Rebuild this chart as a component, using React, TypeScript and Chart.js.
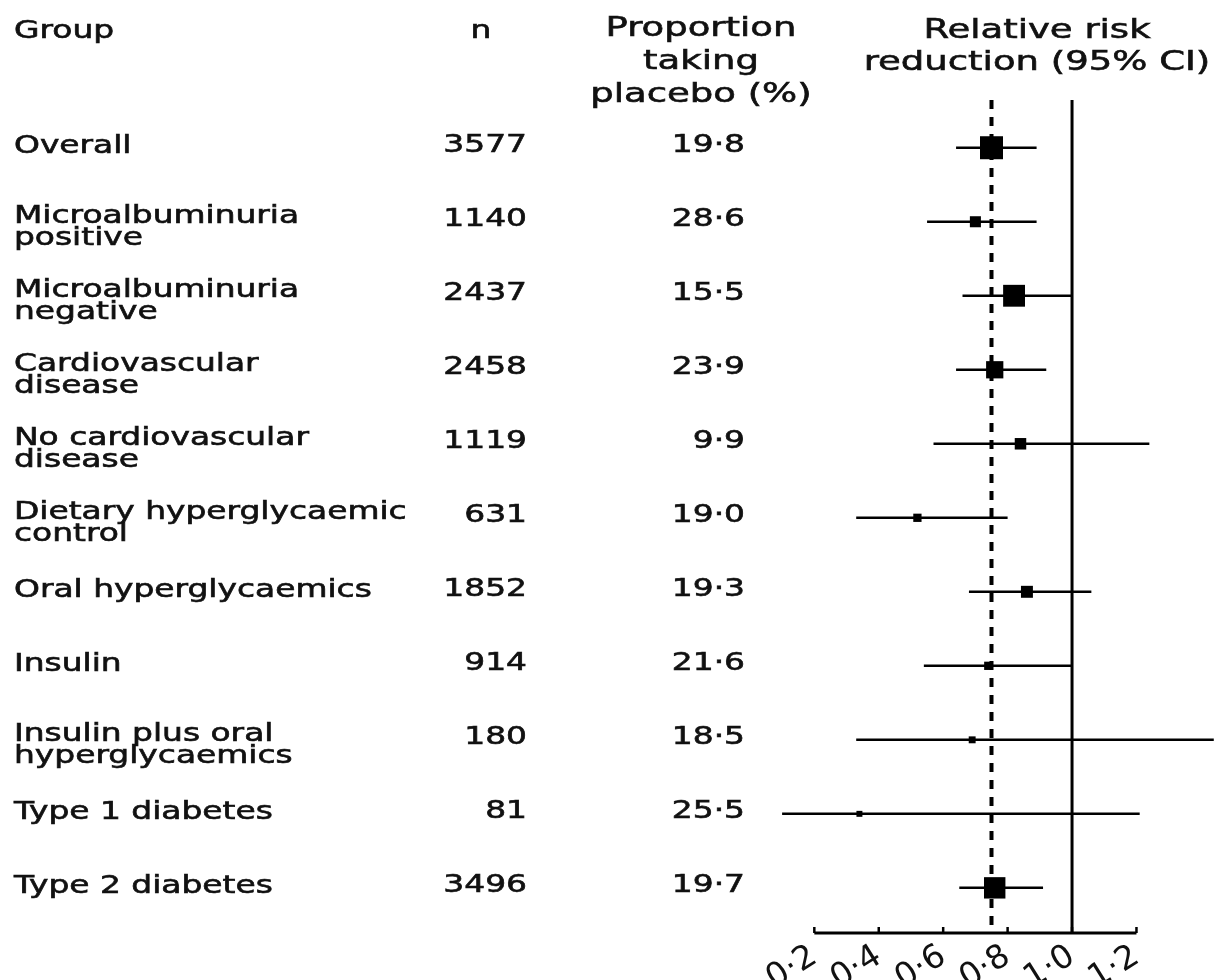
import React, { useEffect, useRef } from "react";
import { Chart, registerables } from "chart.js";

Chart.register(...registerables);

// ---- data ----
const groups: string[][] = [
  ["Overall"],
  ["Microalbuminuria", "positive"],
  ["Microalbuminuria", "negative"],
  ["Cardiovascular", "disease"],
  ["No cardiovascular", "disease"],
  ["Dietary hyperglycaemic", "control"],
  ["Oral hyperglycaemics"],
  ["Insulin"],
  ["Insulin plus oral", "hyperglycaemics"],
  ["Type 1 diabetes"],
  ["Type 2 diabetes"],
];
const nValues = [3577, 1140, 2437, 2458, 1119, 631, 1852, 914, 180, 81, 3496];
const placeboPct = [19.8, 28.6, 15.5, 23.9, 9.9, 19.0, 19.3, 21.6, 18.5, 25.5, 19.7];
const rrEstimate = [0.75, 0.70, 0.82, 0.76, 0.84, 0.52, 0.86, 0.74, 0.69, 0.34, 0.76];
const rrLower = [0.64, 0.55, 0.66, 0.64, 0.57, 0.33, 0.68, 0.54, 0.33, 0.10, 0.65];
const rrUpper = [0.89, 0.89, 1.0, 0.92, 1.24, 0.80, 1.06, 1.0, 1.44, 1.21, 0.91];
const relativeWeight = [1.0, 0.48, 0.95, 0.75, 0.5, 0.36, 0.52, 0.36, 0.3, 0.26, 0.93];
const xTicks = [0.2, 0.4, 0.6, 0.8, 1.0, 1.2];
const overallLine = 0.75;
const nullLine = 1.0;

const headerGroup = "Group";
const headerN = "n";
const headerProp = ["Proportion", "taking", "placebo (%)"];
const headerRR = ["Relative risk", "reduction (95% CI)"];

// ---- layout / style ----
const FONT = '24px "DejaVu Sans"';
const HEAD_FONT = '27px "DejaVu Sans"';
const SX = 1.37;
const COL_GROUP_LEFT = 14;
const COL_N_RIGHT = 527;
const COL_N_HEAD = 481;
const COL_PROP_RIGHT = 745;
const COL_PROP_HEAD = 701;
const COL_RR_HEAD = 1037;
const MAX_BOX = 23;
const TEXT_COLOR = "#111";

const fmt = (v: number) => v.toFixed(1).replace(".", "\u00b7");

function drawText(ctx: CanvasRenderingContext2D, text: string, x: number, y: number, align: CanvasTextAlign) {
  ctx.save();
  ctx.translate(x, y);
  ctx.scale(SX, 1);
  ctx.textAlign = align;
  ctx.textBaseline = "alphabetic";
  ctx.fillText(text, 0, 0);
  ctx.lineWidth = 0.6;
  ctx.strokeText(text, 0, 0);
  ctx.restore();
}

const forestPlugin = {
  id: "forest",
  beforeDatasetsDraw(chart: any) {
    const ctx: CanvasRenderingContext2D = chart.ctx;
    const xs = chart.scales.x;
    const ys = chart.scales.y;
    const area = chart.chartArea;
    ctx.save();
    ctx.strokeStyle = "#000";
    // null line
    ctx.lineWidth = 3;
    ctx.beginPath();
    ctx.moveTo(xs.getPixelForValue(nullLine), area.top);
    ctx.lineTo(xs.getPixelForValue(nullLine), area.bottom);
    ctx.stroke();
    // overall dashed line
    ctx.lineWidth = 4;
    ctx.setLineDash([9, 8]);
    ctx.beginPath();
    ctx.moveTo(xs.getPixelForValue(overallLine), area.top);
    ctx.lineTo(xs.getPixelForValue(overallLine), area.bottom - 4);
    ctx.stroke();
    ctx.setLineDash([]);
    // CI lines
    ctx.lineWidth = 2.5;
    for (let i = 0; i < rrLower.length; i++) {
      const y = ys.getPixelForValue(i);
      ctx.beginPath();
      ctx.moveTo(xs.getPixelForValue(rrLower[i]), y);
      ctx.lineTo(xs.getPixelForValue(rrUpper[i]), y);
      ctx.stroke();
    }
    // axis line and ticks
    ctx.lineWidth = 3;
    ctx.beginPath();
    ctx.moveTo(xs.getPixelForValue(xTicks[0]), area.bottom);
    ctx.lineTo(xs.getPixelForValue(xTicks[xTicks.length - 1]), area.bottom);
    ctx.stroke();
    ctx.lineWidth = 2.5;
    for (const t of xTicks) {
      const px = xs.getPixelForValue(t);
      ctx.beginPath();
      ctx.moveTo(px, area.bottom - 6);
      ctx.lineTo(px, area.bottom);
      ctx.stroke();
    }
    ctx.restore();
  },
  afterDraw(chart: any) {
    const ctx: CanvasRenderingContext2D = chart.ctx;
    const ys = chart.scales.y;
    ctx.save();
    ctx.fillStyle = TEXT_COLOR;
    ctx.strokeStyle = TEXT_COLOR;
    // headers
    ctx.font = FONT;
    drawText(ctx, headerGroup, COL_GROUP_LEFT, 38, "left");
    drawText(ctx, headerN, COL_N_HEAD, 38, "center");
    ctx.font = HEAD_FONT;
    headerProp.forEach((t, k) => drawText(ctx, t, COL_PROP_HEAD, 36 + k * 33, "center"));
    headerRR.forEach((t, k) => drawText(ctx, t, COL_RR_HEAD, 38 + k * 32, "center"));
    // rows
    ctx.font = FONT;
    for (let i = 0; i < groups.length; i++) {
      const c = ys.getPixelForValue(i);
      const lines = groups[i];
      if (lines.length === 1) {
        drawText(ctx, lines[0], COL_GROUP_LEFT, c + 5, "left");
      } else {
        lines.forEach((t, k) => drawText(ctx, t, COL_GROUP_LEFT, c + 1 + k * 22, "left"));
      }
      drawText(ctx, String(nValues[i]), COL_N_RIGHT, c + 4, "right");
      drawText(ctx, fmt(placeboPct[i]), COL_PROP_RIGHT, c + 4, "right");
    }
    ctx.restore();
  },
};

export default function App() {
  const ref = useRef<HTMLCanvasElement>(null);
  useEffect(() => {
    document.body.style.margin = "0";
    const canvas = ref.current!;
    const chart = new Chart(canvas, {
      type: "scatter",
      data: {
        datasets: [
          {
            data: rrEstimate.map((v, i) => ({ x: v, y: i })),
            pointStyle: "rect",
            pointRadius: (c: any) => (relativeWeight[c.dataIndex] * MAX_BOX) / Math.SQRT2,
            backgroundColor: "#000",
            borderWidth: 0,
          },
        ],
      },
      options: {
        animation: false,
        responsive: false,
        devicePixelRatio: 1,
        events: [],
        layout: { autoPadding: false, padding: { left: 766, top: 100, right: 0, bottom: 0 } },
        plugins: { legend: { display: false }, tooltip: { enabled: false } },
        scales: {
          x: {
            type: "linear",
            min: 0.05,
            max: 1.45,
            border: { display: false },
            grid: { display: false, drawTicks: false },
            afterBuildTicks: (s: any) => {
              s.ticks = xTicks.map((v) => ({ value: v }));
            },
            afterFit: (s: any) => {
              s.height = 47;
              s.paddingLeft = 0;
              s.paddingRight = 0;
            },
            ticks: {
              autoSkip: false,
              minRotation: 32,
              maxRotation: 32,
              padding: 4,
              color: TEXT_COLOR,
              font: { family: "DejaVu Sans", size: 33 },
              callback: (v: any) => fmt(Number(v)),
            },
          },
          y: {
            type: "linear",
            display: false,
            reverse: true,
            min: -0.645,
            max: 10.61,
          },
        },
      },
      plugins: [forestPlugin],
    });
    return () => chart.destroy();
  }, []);
  return (
    <div style={{ width: 1217, height: 980 }}>
      <canvas ref={ref} width={1217} height={980} style={{ display: "block" }} />
    </div>
  );
}
